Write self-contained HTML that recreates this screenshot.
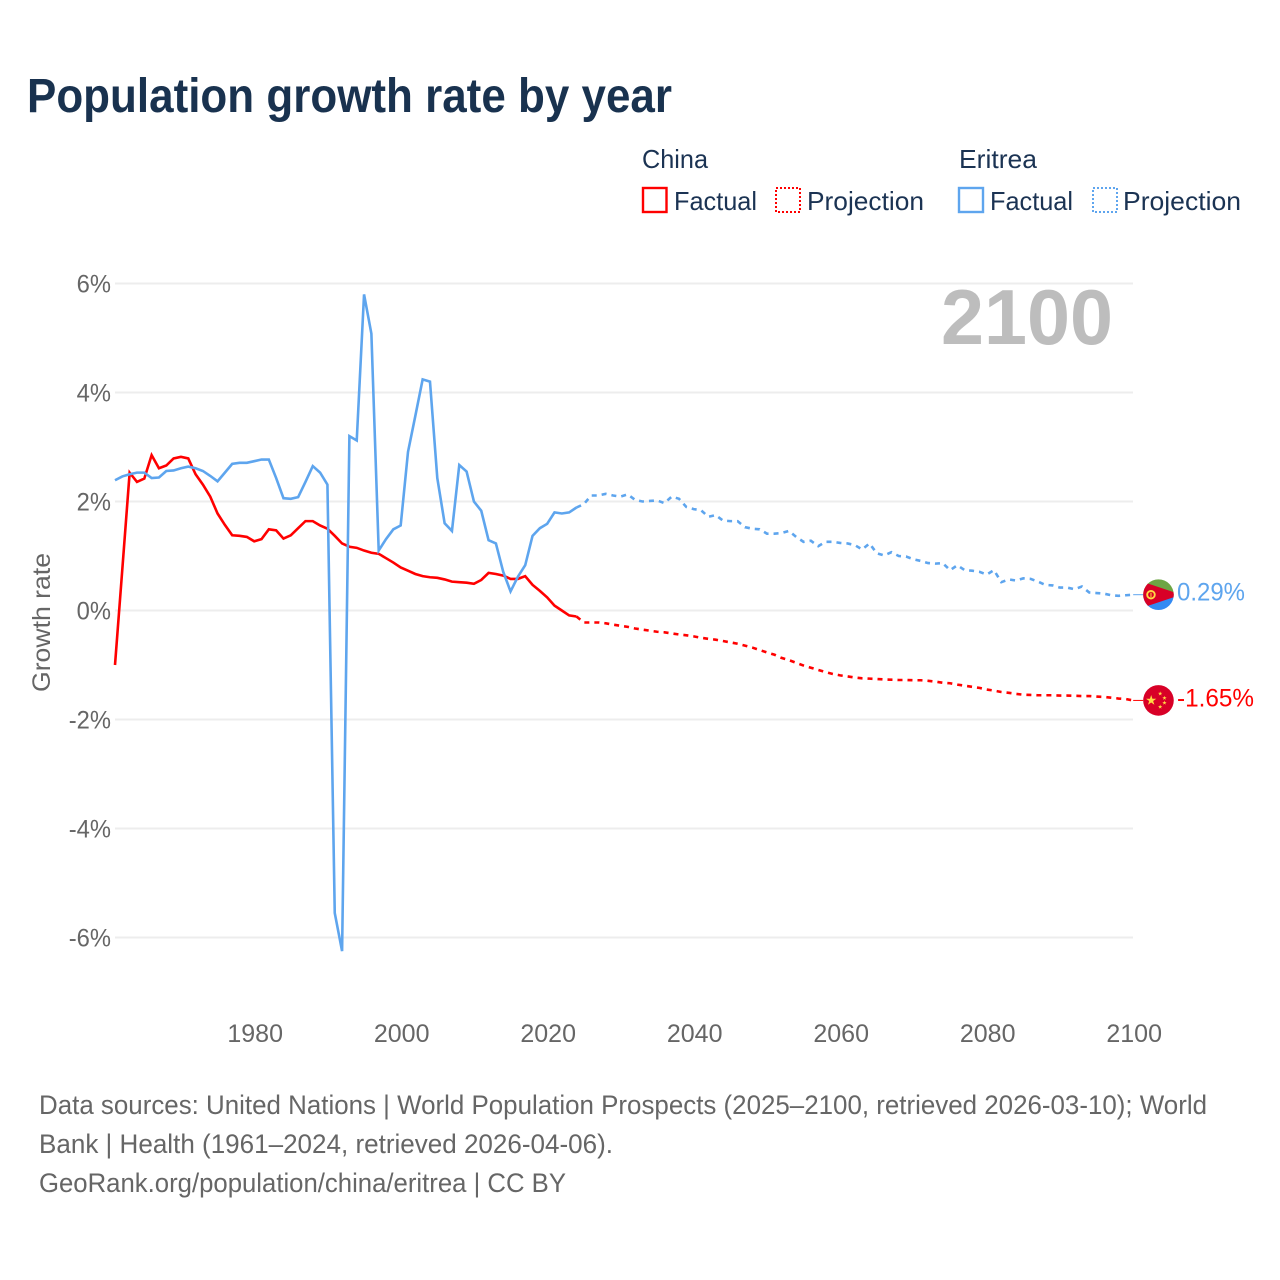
<!DOCTYPE html>
<html lang="en">
<head>
<meta charset="utf-8">
<title>Population growth rate by year</title>
<style>
  html, body { margin: 0; padding: 0; background: #fff; }
  svg { display: block; font-family: "Liberation Sans", sans-serif; }
</style>
</head>
<body>
<svg id="chart" width="1280" height="1280" viewBox="0 0 1280 1280" xmlns="http://www.w3.org/2000/svg">
  <rect x="0" y="0" width="1280" height="1280" fill="#ffffff"/>
  <defs>
    <clipPath id="flag-clip"><circle cx="0" cy="0" r="15.3"/></clipPath>
  </defs>

  <text x="27" y="112" font-size="48" font-weight="700" fill="#19324f" textLength="645" lengthAdjust="spacingAndGlyphs">Population growth rate by year</text>

  <g font-size="26" fill="#1b3353">
    <text x="642" y="168" textLength="66" lengthAdjust="spacingAndGlyphs">China</text>
    <text x="959" y="168" textLength="78" lengthAdjust="spacingAndGlyphs">Eritrea</text>
    <g>
      <rect x="643" y="188" width="23.5" height="24" fill="none" stroke="#ff0000" stroke-width="2.4"/>
      <text x="674" y="210" textLength="83" lengthAdjust="spacingAndGlyphs">Factual</text>
    </g>
    <g>
      <rect x="776" y="188" width="24" height="24" fill="none" stroke="#ff0000" stroke-width="2" stroke-dasharray="2 2"/>
      <text x="807" y="210" textLength="117" lengthAdjust="spacingAndGlyphs">Projection</text>
    </g>
    <g>
      <rect x="959" y="188" width="24" height="24" fill="none" stroke="#5ea5ee" stroke-width="2.4"/>
      <text x="990" y="210" textLength="83" lengthAdjust="spacingAndGlyphs">Factual</text>
    </g>
    <g>
      <rect x="1093" y="188" width="24" height="24" fill="none" stroke="#5ea5ee" stroke-width="2" stroke-dasharray="2 2"/>
      <text x="1123" y="210" textLength="118" lengthAdjust="spacingAndGlyphs">Projection</text>
    </g>
  </g>

  <g id="grid"></g>
  <g id="y-ticks" font-size="25" fill="#666666" text-anchor="end"></g>
  <g id="x-ticks" font-size="25" fill="#666666" text-anchor="middle"></g>

  <text transform="translate(50 622.5) rotate(-90)" font-size="25" fill="#666666" text-anchor="middle" textLength="139" lengthAdjust="spacingAndGlyphs">Growth rate</text>

  <text x="941" y="344" font-size="78" font-weight="700" fill="#bdbdbd" textLength="172" lengthAdjust="spacingAndGlyphs">2100</text>

  <g id="series"></g>

  <g id="flag-eritrea">
    <g clip-path="url(#flag-clip)">
      <rect x="-16" y="-16" width="32" height="16" fill="#6da544"/>
      <rect x="-16" y="0" width="32" height="16" fill="#338af3"/>
      <polygon points="-23,-15.3 -23,15.3 23,0" fill="#d80027"/>
      <circle cx="-7.5" cy="0" r="3.8" fill="none" stroke="#ffda44" stroke-width="1.9"/>
      <rect x="-8" y="-2" width="1" height="4.5" fill="#ffda44"/>
    </g>
  </g>
  <g id="flag-china">
    <g clip-path="url(#flag-clip)">
      <rect x="-16" y="-16" width="32" height="32" fill="#d80027"/>
      <polygon transform="translate(-7.3 0) scale(5.4)" points="0,-1 0.225,-0.31 0.951,-0.31 0.363,0.118 0.588,0.809 0,0.382 -0.588,0.809 -0.363,0.118 -0.951,-0.31 -0.225,-0.31" fill="#ffda44"/>
      <polygon transform="translate(1.7 -6.8) scale(2.3)" points="0,-1 0.225,-0.31 0.951,-0.31 0.363,0.118 0.588,0.809 0,0.382 -0.588,0.809 -0.363,0.118 -0.951,-0.31 -0.225,-0.31" fill="#ffda44"/>
      <polygon transform="translate(6 -2.4) scale(2.3)" points="0,-1 0.225,-0.31 0.951,-0.31 0.363,0.118 0.588,0.809 0,0.382 -0.588,0.809 -0.363,0.118 -0.951,-0.31 -0.225,-0.31" fill="#ffda44"/>
      <polygon transform="translate(6 2.4) scale(2.3)" points="0,-1 0.225,-0.31 0.951,-0.31 0.363,0.118 0.588,0.809 0,0.382 -0.588,0.809 -0.363,0.118 -0.951,-0.31 -0.225,-0.31" fill="#ffda44"/>
      <polygon transform="translate(1.7 6.4) scale(2.3)" points="0,-1 0.225,-0.31 0.951,-0.31 0.363,0.118 0.588,0.809 0,0.382 -0.588,0.809 -0.363,0.118 -0.951,-0.31 -0.225,-0.31" fill="#ffda44"/>
    </g>
  </g>
  <text id="value-eritrea" x="1177" font-size="25" fill="#5ea5ee" textLength="68" lengthAdjust="spacingAndGlyphs"></text>
  <text id="value-china" x="1177" font-size="25" fill="#ff0000" textLength="77" lengthAdjust="spacingAndGlyphs"></text>

  <g font-size="26.5" fill="#666666">
    <text x="39" y="1114" textLength="1168" lengthAdjust="spacingAndGlyphs">Data sources: United Nations | World Population Prospects (2025–2100, retrieved 2026-03-10); World</text>
    <text x="39" y="1153" textLength="574" lengthAdjust="spacingAndGlyphs">Bank | Health (1961–2024, retrieved 2026-04-06).</text>
    <text x="39" y="1192" textLength="527" lengthAdjust="spacingAndGlyphs">GeoRank.org/population/china/eritrea | CC BY</text>
  </g>
</svg>

<script>
const firstYear = 1961;
const yTickValues = [6, 4, 2, 0, -2, -4, -6];
const yTickLabels = ["6%", "4%", "2%", "0%", "-2%", "-4%", "-6%"];
const xTickYears = [1980, 2000, 2020, 2040, 2060, 2080, 2100];

// Factual values, 1961-2024
const chinaFactual = [
  -1.0, 0.76, 2.53, 2.36, 2.42, 2.85, 2.61, 2.66, 2.79, 2.82,
  2.79, 2.50, 2.31, 2.09, 1.78, 1.57, 1.38, 1.37, 1.35, 1.27,
  1.31, 1.49, 1.47, 1.32, 1.38, 1.51, 1.64, 1.64, 1.56, 1.50,
  1.37, 1.23, 1.17, 1.15, 1.10, 1.06, 1.04, 0.96, 0.88, 0.79,
  0.73, 0.67, 0.63, 0.61, 0.60, 0.57, 0.53, 0.52, 0.51, 0.49,
  0.56, 0.69, 0.67, 0.64, 0.58, 0.58, 0.63, 0.47, 0.36, 0.24,
  0.09, 0.00, -0.09, -0.11
];
const eritreaFactual = [
  2.39, 2.46, 2.50, 2.53, 2.53, 2.43, 2.44, 2.56, 2.57, 2.61,
  2.64, 2.61, 2.56, 2.47, 2.37, 2.53, 2.69, 2.71, 2.71, 2.74,
  2.77, 2.77, 2.43, 2.06, 2.05, 2.08, 2.36, 2.65, 2.53, 2.31,
  -5.55, -6.25, 3.20, 3.12, 5.80, 5.08, 1.10, 1.31, 1.49, 1.56,
  2.91, 3.57, 4.24, 4.20, 2.43, 1.60, 1.46, 2.67, 2.55, 2.00,
  1.83, 1.29, 1.23, 0.71, 0.35, 0.62, 0.83, 1.37, 1.51, 1.59,
  1.80, 1.78, 1.80, 1.89
];

// Projection values, 2025-2100
const chinaProjection = [
  -0.22, -0.22, -0.22, -0.235, -0.26, -0.28,
  -0.30, -0.33, -0.35, -0.37, -0.39, -0.40, -0.42, -0.44, -0.455, -0.475,
  -0.50, -0.52, -0.535, -0.56, -0.585, -0.61, -0.645, -0.68, -0.725, -0.77,
  -0.81, -0.87, -0.91, -0.96, -1.01, -1.05, -1.09, -1.13, -1.165, -1.19,
  -1.21, -1.23, -1.245, -1.25, -1.257, -1.265, -1.27, -1.275, -1.275, -1.28,
  -1.28, -1.29, -1.305, -1.325, -1.335, -1.36, -1.38, -1.40, -1.42, -1.45,
  -1.47, -1.495, -1.51, -1.53, -1.545, -1.55, -1.555, -1.555, -1.555, -1.56,
  -1.56, -1.565, -1.57, -1.57, -1.58, -1.585, -1.60, -1.615, -1.625, -1.65
];
const eritreaProjection = [
  1.95, 2.11, 2.11, 2.14, 2.11, 2.09,
  2.13, 2.03, 2.00, 2.01, 2.02, 1.97, 2.09, 2.05, 1.90, 1.86,
  1.84, 1.72, 1.75, 1.65, 1.64, 1.64, 1.53, 1.50, 1.49, 1.41,
  1.41, 1.42, 1.46, 1.35, 1.26, 1.28, 1.18, 1.26, 1.26, 1.24,
  1.23, 1.20, 1.12, 1.23, 1.05, 1.01, 1.07, 1.00, 0.99, 0.94,
  0.91, 0.87, 0.86, 0.87, 0.74, 0.83, 0.74, 0.73, 0.71, 0.66,
  0.74, 0.52, 0.57, 0.55, 0.59, 0.58, 0.53, 0.47, 0.46, 0.42,
  0.42, 0.39, 0.44, 0.33, 0.32, 0.31, 0.28, 0.27, 0.28, 0.29
];

const SVG_NS = "http://www.w3.org/2000/svg";
const red = "#ff0000";
const blue = "#5ea5ee";

function xScale(year) {
  return 115 + (year - firstYear) * 7.325;
}
function yScale(value) {
  return 610.5 - value * 54.5;
}
function pathFrom(startYear, values) {
  return values.map(function (v, i) {
    return (i === 0 ? "M" : "L") + xScale(startYear + i).toFixed(2) + " " + yScale(v).toFixed(2);
  }).join(" ");
}
function styleLine(el, color, width) {
  el.setAttribute("fill", "none");
  el.setAttribute("stroke", color);
  el.setAttribute("stroke-width", width);
}

const gridGroup = document.getElementById("grid");
const yTickGroup = document.getElementById("y-ticks");
yTickValues.forEach(function (v, i) {
  const line = document.createElementNS(SVG_NS, "line");
  
  
  line.setAttribute("x1", 115);
  line.setAttribute("x2", 1133);
  line.setAttribute("y1", yScale(v));
  line.setAttribute("y2", yScale(v));
  line.setAttribute("stroke", "#ededed");
  line.setAttribute("stroke-width", 2);
  gridGroup.appendChild(line);

  const label = document.createElementNS(SVG_NS, "text");
  
  
  label.setAttribute("x", 111);
  label.setAttribute("y", yScale(v) + 9);
  label.textContent = yTickLabels[i];
  yTickGroup.appendChild(label);
  label.setAttribute("lengthAdjust", "spacingAndGlyphs");
  label.setAttribute("textLength", (label.getComputedTextLength() * 0.95).toFixed(2));
});

const xTickGroup = document.getElementById("x-ticks");
xTickYears.forEach(function (year) {
  const label = document.createElementNS(SVG_NS, "text");
  
  
  label.setAttribute("x", xScale(year) + 1);
  label.setAttribute("y", 1042);
  label.textContent = String(year);
  xTickGroup.appendChild(label);
});

const seriesGroup = document.getElementById("series");
const lastFactualYear = firstYear + chinaFactual.length - 1;
const lastYear = lastFactualYear + chinaProjection.length;

// China
const chinaFactualPath = document.createElementNS(SVG_NS, "path");


chinaFactualPath.setAttribute("d", pathFrom(firstYear, chinaFactual));
styleLine(chinaFactualPath, red, 2.6);
seriesGroup.appendChild(chinaFactualPath);

const chinaProjectionPath = document.createElementNS(SVG_NS, "path");


chinaProjectionPath.setAttribute("d", pathFrom(lastFactualYear, [chinaFactual[chinaFactual.length - 1]].concat(chinaProjection)));
styleLine(chinaProjectionPath, red, 2.6);
chinaProjectionPath.setAttribute("stroke-dasharray", "5 5");
seriesGroup.appendChild(chinaProjectionPath);

// Eritrea
const eritreaFactualPath = document.createElementNS(SVG_NS, "path");


eritreaFactualPath.setAttribute("d", pathFrom(firstYear, eritreaFactual));
styleLine(eritreaFactualPath, blue, 2.6);
seriesGroup.appendChild(eritreaFactualPath);

const eritreaProjectionPath = document.createElementNS(SVG_NS, "path");


eritreaProjectionPath.setAttribute("d", pathFrom(lastFactualYear, [eritreaFactual[eritreaFactual.length - 1]].concat(eritreaProjection)));
styleLine(eritreaProjectionPath, blue, 2.6);
eritreaProjectionPath.setAttribute("stroke-dasharray", "5 5");
seriesGroup.appendChild(eritreaProjectionPath);

// Connectors, flags and end labels follow the last value of each series
const chinaEnd = chinaProjection[chinaProjection.length - 1];
const eritreaEnd = eritreaProjection[eritreaProjection.length - 1];

const chinaConnector = document.createElementNS(SVG_NS, "line");


chinaConnector.setAttribute("x1", xScale(lastYear));
chinaConnector.setAttribute("x2", xScale(lastYear) + 10);
chinaConnector.setAttribute("y1", yScale(chinaEnd));
chinaConnector.setAttribute("y2", yScale(chinaEnd));
chinaConnector.setAttribute("stroke", red);
chinaConnector.setAttribute("stroke-width", 1);
seriesGroup.appendChild(chinaConnector);

const eritreaConnector = document.createElementNS(SVG_NS, "line");


eritreaConnector.setAttribute("x1", xScale(lastYear));
eritreaConnector.setAttribute("x2", xScale(lastYear) + 10);
eritreaConnector.setAttribute("y1", yScale(eritreaEnd));
eritreaConnector.setAttribute("y2", yScale(eritreaEnd));
eritreaConnector.setAttribute("stroke", blue);
eritreaConnector.setAttribute("stroke-width", 1);
seriesGroup.appendChild(eritreaConnector);

document.getElementById("flag-eritrea").setAttribute("transform", "translate(" + (xScale(lastYear) + 25.3) + " " + yScale(eritreaEnd) + ")");
document.getElementById("flag-china").setAttribute("transform", "translate(" + (xScale(lastYear) + 25.3) + " " + yScale(chinaEnd) + ")");

const eritreaValue = document.getElementById("value-eritrea");
eritreaValue.setAttribute("y", yScale(eritreaEnd) + 6);
eritreaValue.textContent = eritreaEnd.toFixed(2) + "%";

const chinaValue = document.getElementById("value-china");
chinaValue.setAttribute("y", yScale(chinaEnd) + 6);
chinaValue.textContent = chinaEnd.toFixed(2) + "%";
</script>
</body>
</html>
